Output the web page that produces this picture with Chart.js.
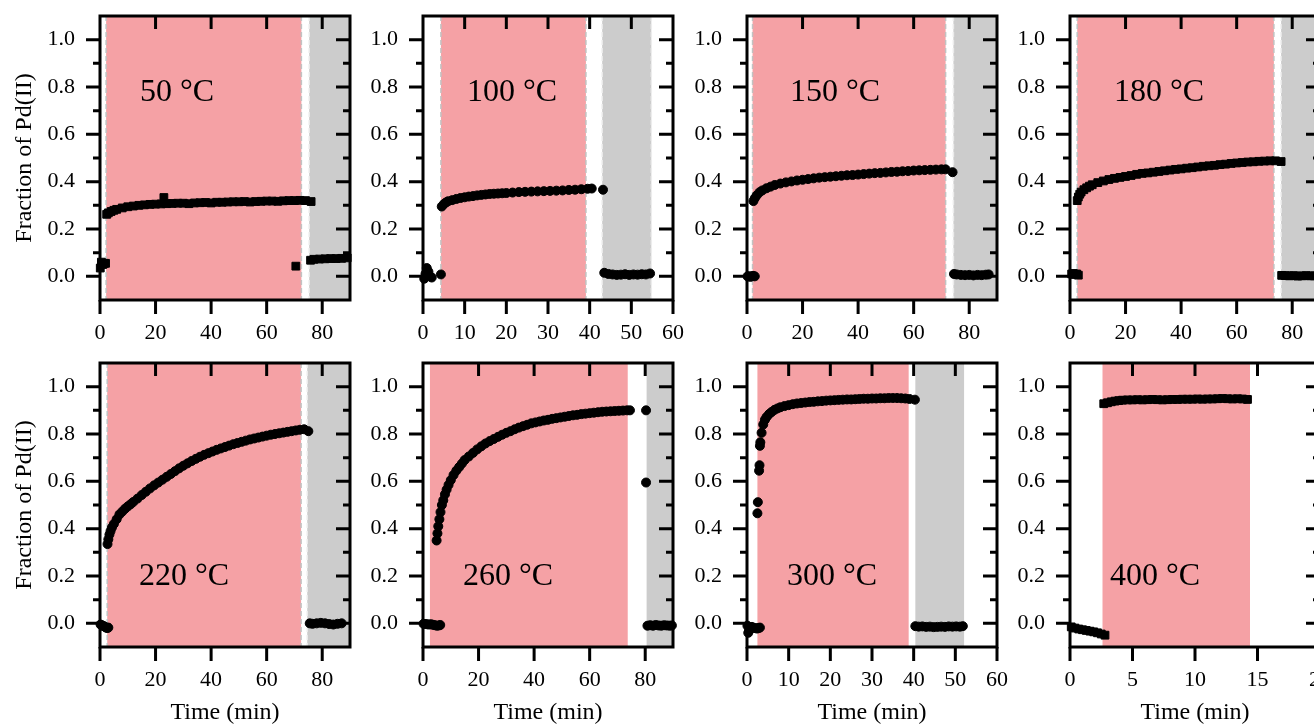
<!DOCTYPE html>
<html lang="en">

<head>
    <meta charset="UTF-8">
    <title>Fraction of Pd(II)</title>
    <script src="https://cdn.jsdelivr.net/npm/chart.js"></script>
    <style>
        body {
            margin: 0;
            background: #fff;
            overflow: hidden;
        }

        #grade {
            position: relative;
            width: 1314px;
            height: 728px;
            overflow: hidden;
        }

        #grade canvas {
            position: absolute;
        }
    </style>
</head>

<body>
    <div id="grade"></div>
</body>

</html>
<script>

    // one panel per temperature, top row then bottom row
    const temperaturas = [50, 100, 150, 180, 220, 260, 300, 400];
    const tempoMax = [90, 60, 90, 90, 90, 90, 60, 20];
    const passoTempo = [20, 10, 20, 20, 20, 20, 10, 5];
    const marcador = ['rect', 'circle', 'circle', 'rect', 'circle', 'circle', 'circle', 'rect'];

    // heating window (pink) and cooling window (gray), in min
    const aquecInicio = [2.2, 4.3, 2.0, 2.6, 2.6, 2.5, 2.5, 2.6];
    const aquecFim = [72.5, 39.1, 71.5, 73.4, 72.4, 73.7, 38.8, 14.4];
    const resfInicio = [75.3, 43.0, 74.3, 76.0, 74.6, 80.5, 40.4, null];
    const resfFim = [90, 54.8, 90, 90, 90, 90, 52.1, null];

    const t50 = [0.1, 0.5, 1.0, 1.5, 2.0,
        2.4, 3, 4, 5, 6, 8, 10, 12, 14, 16, 18, 20, 22, 23, 24, 26, 28, 30, 32, 34, 36, 38, 40, 42, 44, 46, 48, 50,
        52, 54, 56, 58, 60, 62, 64, 66, 68, 70, 70.5, 72, 74, 76,
        75.8, 77, 79, 81, 83, 85, 87, 89];
    const f50 = [0.035, 0.06, 0.05, 0.055, 0.055,
        0.262, 0.268, 0.274, 0.279, 0.283, 0.289, 0.294, 0.297, 0.300, 0.302, 0.304, 0.305, 0.306, 0.333, 0.307, 0.308, 0.309, 0.309, 0.307, 0.310, 0.311, 0.312, 0.310, 0.313, 0.313, 0.314, 0.315, 0.315,
        0.316, 0.314, 0.316, 0.317, 0.318, 0.318, 0.317, 0.319, 0.320, 0.320, 0.043, 0.321, 0.320, 0.316,
        0.068, 0.072, 0.073, 0.074, 0.075, 0.075, 0.076, 0.078];

    const t100 = [0.3, 0.6, 0.9, 1.3, 1.7, 2.1, 4.3,
        4.5, 5, 5.5, 6, 7, 8, 9, 10, 11, 12, 13, 14, 15, 16, 17, 18, 19, 20, 21.5, 23, 24.5, 26, 27.5, 29, 30.5, 32, 33.5, 35, 36.5, 38, 39.5, 40.5, 43.2,
        43.5, 44.5, 45.5, 46.5, 47.5, 48.5, 49.5, 50.5, 51.5, 52.5, 53.5, 54.5];
    const f100 = [-0.01, 0.01, 0.035, 0.02, 0.0, -0.005, 0.008,
        0.295, 0.305, 0.312, 0.317, 0.322, 0.327, 0.331, 0.334, 0.337, 0.339, 0.342, 0.344, 0.346, 0.348, 0.349, 0.350, 0.351, 0.352, 0.354, 0.356, 0.357, 0.358, 0.359, 0.360, 0.361, 0.362, 0.363, 0.365, 0.366, 0.368, 0.370, 0.371, 0.366,
        0.015, 0.010, 0.008, 0.006, 0.007, 0.009, 0.006, 0.008, 0.007, 0.009, 0.008, 0.012];

    const t150 = [0.2, 0.7, 1.2, 1.7, 2.2, 2.8,
        2.3, 2.8, 3.5, 4.5, 5.5, 7, 8.5, 10, 12, 14, 16, 18, 20, 22, 24, 26, 28, 30, 32, 34, 36, 38, 40, 42, 44, 46, 48, 50,
        52, 54, 56, 58, 60, 62, 64, 66, 68, 70, 71.5, 74,
        74.5, 75.5, 77, 78.5, 80, 81.5, 83, 84.5, 86, 87];
    const f150 = [0.0, 0.0, -0.002, 0.0, 0.002, 0.0,
        0.318, 0.330, 0.342, 0.355, 0.363, 0.372, 0.379, 0.386, 0.392, 0.397, 0.401, 0.405, 0.408, 0.411, 0.414, 0.417, 0.419, 0.421, 0.423, 0.425, 0.427, 0.428, 0.430, 0.432, 0.434, 0.436, 0.437, 0.439,
        0.441, 0.442, 0.444, 0.445, 0.447, 0.448, 0.449, 0.450, 0.451, 0.452, 0.452, 0.440,
        0.010, 0.008, 0.006, 0.005, 0.006, 0.004, 0.006, 0.005, 0.007, 0.008];

    const t180 = [0.6, 1.2, 1.8, 2.4, 3.0,
        2.6, 3, 3.5, 4, 5, 6, 7, 8, 10, 12, 14, 16, 18, 20, 22, 24, 26, 28, 30, 32, 34, 36, 38, 40, 42, 44, 46, 48, 50,
        52, 54, 56, 58, 60, 62, 64, 66, 68, 70, 72, 74, 76,
        76.2, 77.5, 79, 80.5, 82, 83.5, 85, 86.5, 88];
    const f180 = [0.010, 0.012, 0.008, 0.010, 0.005,
        0.320, 0.335, 0.347, 0.356, 0.366, 0.374, 0.381, 0.387, 0.396, 0.403, 0.409, 0.414, 0.418, 0.422, 0.426, 0.431, 0.435, 0.437, 0.440, 0.443, 0.446, 0.449, 0.452, 0.454, 0.457, 0.459, 0.462, 0.465, 0.467,
        0.469, 0.472, 0.474, 0.477, 0.479, 0.481, 0.483, 0.484, 0.486, 0.487, 0.488, 0.488, 0.485,
        0.004, 0.003, 0.002, 0.003, 0.001, 0.002, 0.003, 0.002, 0.002];

    const t220 = [0.2, 0.6, 1.0, 1.4, 1.8, 2.2, 2.6, 3.0,
        2.7, 3.0, 3.4, 3.8, 4.3, 5, 6, 7, 8, 9, 10, 11, 12, 13.5, 15, 16.5, 18, 19.5, 21, 22.5, 24, 25.5, 27, 28.5, 30,
        31.5, 33, 34.5, 36, 37.5, 39, 40.5, 42, 43.5, 45, 46.5, 48, 49.5, 51, 52.5, 54, 55.5, 57, 58.5, 60,
        61.5, 63, 64.5, 66, 67.5, 69, 70.5, 72, 73.5, 75,
        75.5, 76.5, 78, 79.5, 81, 82.5, 84, 85.5, 87];
    const f220 = [-0.005, -0.008, -0.010, -0.012, -0.015, -0.018, -0.020, -0.018,
        0.335, 0.355, 0.375, 0.390, 0.405, 0.420, 0.440, 0.460, 0.472, 0.484, 0.494, 0.503, 0.513, 0.527, 0.542, 0.556, 0.570, 0.583, 0.595, 0.607, 0.619, 0.631, 0.643, 0.655, 0.666,
        0.676, 0.686, 0.695, 0.704, 0.712, 0.719, 0.726, 0.733, 0.739, 0.745, 0.751, 0.757, 0.762, 0.767, 0.772, 0.777, 0.781, 0.785, 0.789, 0.793,
        0.797, 0.800, 0.803, 0.806, 0.809, 0.812, 0.815, 0.818, 0.820, 0.812,
        0.000, -0.002, 0.000, 0.002, 0.000, -0.003, -0.005, -0.002, 0.000];

    const t260 = [0.2, 0.8, 1.5, 2.2, 2.9, 3.6, 4.3, 5.0, 5.7, 6.2,
        4.9, 5.2, 5.5, 5.9, 6.3, 6.8, 7.3, 7.9, 8.5, 9.2, 10, 11, 12, 13, 14, 15, 16.5, 18, 19.5, 21, 22.5, 24, 25.5,
        27, 28.5, 30, 31.5, 33, 34.5, 36, 37.5, 39, 40.5, 42, 43.5, 45, 46.5, 48, 49.5, 51, 52.5, 54, 55.5,
        57, 58.5, 60, 61.5, 63, 64.5, 66, 67.5, 69, 70.5, 72, 73.5, 74.5,
        80.3, 80.3,
        80.8, 81.8, 82.8, 83.8, 84.8, 85.8, 86.8, 87.8, 88.8, 89.6];
    const f260 = [-0.002, -0.003, -0.004, -0.005, -0.004, -0.006, -0.008, -0.010, -0.009, -0.007,
        0.350, 0.380, 0.410, 0.440, 0.470, 0.500, 0.520, 0.545, 0.565, 0.585, 0.605, 0.627, 0.645, 0.660, 0.675, 0.690, 0.705, 0.720, 0.735, 0.748, 0.760, 0.770, 0.779,
        0.788, 0.797, 0.805, 0.812, 0.820, 0.827, 0.833, 0.839, 0.845, 0.849, 0.853, 0.857, 0.860, 0.864, 0.867, 0.870, 0.873, 0.876, 0.879, 0.881,
        0.884, 0.886, 0.888, 0.890, 0.892, 0.894, 0.895, 0.896, 0.897, 0.898, 0.899, 0.900, 0.900,
        0.900, 0.595,
        -0.010, -0.008, -0.010, -0.007, -0.009, -0.010, -0.008, -0.009, -0.010, -0.009];

    const t300 = [0.1, 0.3, 0.5, 0.8, 1.2, 1.6, 2.0, 2.4, 2.8, 3.1,
        2.5, 2.6, 2.9, 3.0, 3.1, 3.2, 3.5, 3.9, 4.3, 4.7, 5.3, 5.9, 6.6, 7.3, 8, 9, 10, 11, 12, 13, 14, 15, 16, 17,
        18, 19, 20, 21, 22, 23, 24, 25, 26, 27, 28, 29, 30, 31, 32, 33, 34, 35, 36, 37, 38, 39, 40.3,
        40.4, 41.2, 42.1, 43, 43.9, 44.8, 45.7, 46.6, 47.5, 48.4, 49.3, 50.2, 51.1, 51.8];
    const f300 = [-0.010, -0.040, -0.030, -0.020, -0.015, -0.020, -0.020, -0.022, -0.020, -0.018,
        0.465, 0.512, 0.645, 0.668, 0.750, 0.765, 0.805, 0.840, 0.860, 0.872, 0.884, 0.893, 0.902, 0.908, 0.913, 0.918, 0.922, 0.926, 0.929, 0.931, 0.933, 0.935, 0.936, 0.938,
        0.939, 0.941, 0.942, 0.943, 0.944, 0.945, 0.946, 0.946, 0.947, 0.948, 0.949, 0.949, 0.950, 0.950, 0.951, 0.951, 0.952, 0.952, 0.952, 0.951, 0.950, 0.948, 0.945,
        -0.012, -0.014, -0.013, -0.015, -0.014, -0.016, -0.015, -0.014, -0.015, -0.013, -0.014, -0.013, -0.014, -0.012];

    const t400 = [0.1, 0.4, 0.7, 1.0, 1.3, 1.6, 1.9, 2.2, 2.5, 2.8,
        2.7, 3.0, 3.3, 3.6, 3.9, 4.2, 4.6, 5.0, 5.4, 5.8, 6.2, 6.6, 7.0, 7.4, 7.8, 8.2, 8.6, 9.0, 9.4, 9.8,
        10.2, 10.6, 11.0, 11.4, 11.8, 12.2, 12.6, 13.0, 13.4, 13.8, 14.2];
    const f400 = [-0.015, -0.020, -0.024, -0.027, -0.030, -0.033, -0.036, -0.040, -0.045, -0.050,
        0.928, 0.932, 0.936, 0.939, 0.941, 0.943, 0.944, 0.944, 0.945, 0.944, 0.945, 0.946, 0.945, 0.944, 0.945, 0.946, 0.946, 0.947, 0.947, 0.947,
        0.948, 0.947, 0.948, 0.948, 0.949, 0.950, 0.949, 0.948, 0.949, 0.948, 0.946];

    const tempos = [t50, t100, t150, t180, t220, t260, t300, t400];
    const fracoes = [f50, f100, f150, f180, f220, f260, f300, f400];

    // page layout
    const esquerdas = [100, 423, 747, 1070];
    const topos = [16, 363];
    const largura = 250, altura = 284;
    const deslocRotulo = [40, 44, 43, 44, 39, 40, 40, 40];
    const fonte = '"Liberation Serif", "Times New Roman", serif';

    Chart.defaults.font.family = fonte;
    Chart.defaults.color = '#000';

    // keep the plot box where it is, whatever the labels ask for
    const semMargem = s => {
        s.paddingTop = 0;
        s.paddingBottom = 0;
        s.paddingLeft = 0;
        s.paddingRight = 0;
    };

    const molduraPlugin = {
        id: 'moldura',
        beforeDatasetsDraw(chart, args, o) {
            const { ctx, chartArea: a, scales: { x, y } } = chart;
            ctx.save();
            const faixa = (ini, fim, cor, tracejado) => {
                const x0 = x.getPixelForValue(ini);
                const x1 = x.getPixelForValue(fim);
                ctx.fillStyle = cor;
                ctx.fillRect(x0, a.top, x1 - x0, a.bottom - a.top);
                if (tracejado) {
                    ctx.strokeStyle = tracejado;
                    ctx.lineWidth = 1.5;
                    ctx.setLineDash([5, 3]);
                    ctx.beginPath();
                    [x0, x1].forEach(px => {
                        if (px < a.right - 3) {
                            ctx.moveTo(px, a.top);
                            ctx.lineTo(px, a.bottom);
                        }
                    });
                    ctx.stroke();
                    ctx.setLineDash([]);
                }
            };
            faixa(o.aquec[0], o.aquec[1], 'rgb(245,161,165)', o.tracos ? '#c2c2c2' : null);
            if (o.resf[0] !== null) {
                faixa(o.resf[0], o.resf[1], 'rgb(204,204,204)', o.tracos ? '#ececec' : null);
            }
            ctx.fillStyle = '#000';
            ctx.font = '32px ' + fonte;
            ctx.textAlign = 'left';
            ctx.textBaseline = 'middle';
            ctx.fillText(o.rotulo, a.left + o.dx, y.getPixelForValue(o.yRotulo));
            ctx.restore();
        },
        afterDatasetsDraw(chart) {
            const { ctx, chartArea: a, scales: { x, y } } = chart;
            ctx.save();
            ctx.strokeStyle = '#000';
            ctx.lineWidth = 3;
            ctx.strokeRect(a.left, a.top, a.right - a.left, a.bottom - a.top);
            ctx.beginPath();
            x.ticks.forEach(t => {
                const px = x.getPixelForValue(t.value);
                ctx.moveTo(px, a.bottom);
                ctx.lineTo(px, a.bottom + 14);
                if (t.value > x.min && t.value < x.max) {
                    ctx.moveTo(px, a.top);
                    ctx.lineTo(px, a.top + 13);
                }
            });
            y.ticks.forEach(t => {
                if (t.value <= y.min + 1e-6 || t.value >= y.max - 1e-6) return;
                const py = y.getPixelForValue(t.value);
                const len = Math.round(t.value * 10) % 2 === 0 ? 14 : 7;
                ctx.moveTo(a.left - len, py);
                ctx.lineTo(a.left, py);
                ctx.moveTo(a.right - len, py);
                ctx.lineTo(a.right, py);
            });
            ctx.stroke();
            ctx.restore();
        }
    };

    const grade = document.getElementById('grade');

    temperaturas.forEach((temp, i) => {
        const col = i % 4, lin = Math.floor(i / 4);
        const padL = col === 0 ? 100 : 75;
        const padT = 16, padR = 20;
        const padB = lin === 0 ? 46 : 81;

        const canvas = document.createElement('canvas');
        canvas.width = padL + largura + padR;
        canvas.height = padT + altura + padB;
        canvas.style.left = (esquerdas[col] - padL) + 'px';
        canvas.style.top = (topos[lin] - padT) + 'px';
        grade.appendChild(canvas);

        new Chart(canvas.getContext('2d'), {
            type: 'scatter',
            data: {
                datasets: [{
                    data: tempos[i].map((t, k) => ({ x: t, y: fracoes[i][k] })),
                    pointStyle: marcador[i],
                    pointRadius: marcador[i] === 'rect' ? 5.5 : 4.5,
                    pointBorderWidth: 1,
                    backgroundColor: '#000',
                    borderColor: '#000',
                    clip: false
                }]
            },
            options: {
                responsive: false,
                animation: false,
                devicePixelRatio: 1,
                layout: { padding: { top: padT, right: padR, left: 0, bottom: 0 } },
                plugins: {
                    legend: { display: false },
                    tooltip: { enabled: false },
                    moldura: {
                        aquec: [aquecInicio[i], aquecFim[i]],
                        resf: [resfInicio[i], resfFim[i]],
                        tracos: i < 5,
                        rotulo: temp + ' \u00B0C',
                        dx: deslocRotulo[i],
                        yRotulo: lin === 0 ? 0.775 : 0.196
                    }
                },
                scales: {
                    x: {
                        type: 'linear',
                        min: 0,
                        max: tempoMax[i],
                        afterFit: s => { s.height = padB; semMargem(s); },
                        grid: { display: false, drawTicks: false },
                        border: { display: false },
                        ticks: {
                            stepSize: passoTempo[i],
                            includeBounds: false,
                            autoSkip: false,
                            maxRotation: 0,
                            padding: 20,
                            font: { size: 22 }
                        },
                        title: {
                            display: lin === 1,
                            text: 'Time (min)',
                            font: { size: 24 },
                            padding: { top: 0, bottom: 1 }
                        }
                    },
                    y: {
                        min: -0.1,
                        max: 1.1,
                        afterFit: s => { s.width = padL; semMargem(s); },
                        grid: { display: false, drawTicks: false },
                        border: { display: false },
                        ticks: {
                            stepSize: 0.1,
                            autoSkip: false,
                            padding: 25,
                            font: { size: 22 },
                            callback: v => Math.round(v * 10) % 2 === 0 ? v.toFixed(1) : ''
                        },
                        title: {
                            display: col === 0,
                            text: 'Fraction of Pd(II)',
                            font: { size: 24 },
                            padding: { top: 10, bottom: 0 }
                        }
                    }
                }
            },
            plugins: [molduraPlugin]
        });
    });

</script>
